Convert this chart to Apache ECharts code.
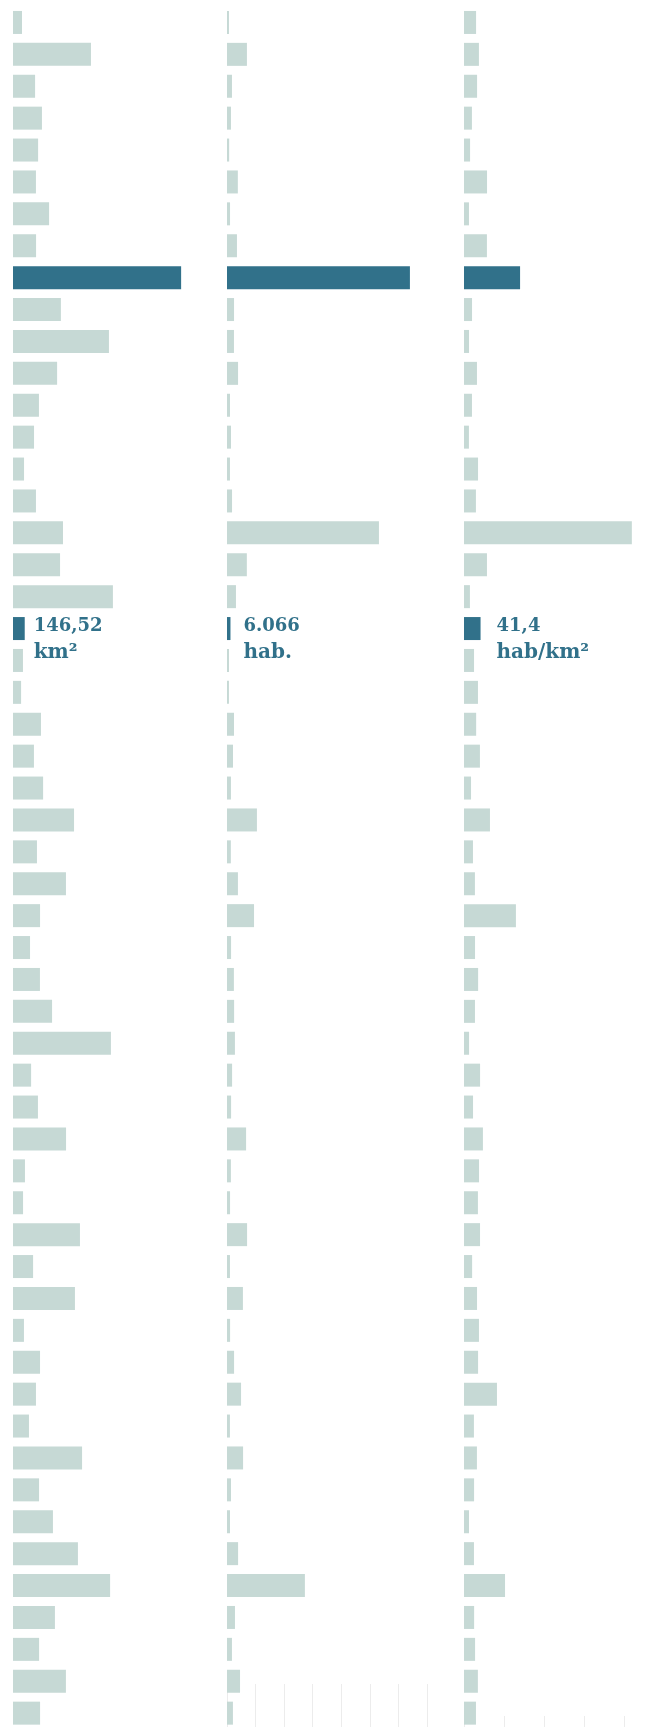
<!DOCTYPE html>
<html>
<head>
<meta charset="utf-8">
<script src="https://cdn.jsdelivr.net/npm/echarts@6/dist/echarts.min.js"></script>
<style>
html,body{margin:0;padding:0;background:#ffffff;}
#chart{width:657px;height:1727px;}
</style>
</head>
<body>
<div id="chart"></div>
<script>
// Municipalities (rows, top to bottom)
const categories = ['01','02','03','04','05','06','07','08','09','10','11','12','13','14','15','16','17','18','19','20','21','22','23','24','25','26','27','28','29','30','31','32','33','34','35','36','37','38','39','40','41','42','43','44','45','46','47','48','49','50','51','52','53','54'];

// Área (km²)
const area = [112.3, 974.6, 276.1, 361.8, 313.9, 286.7, 451.2, 288.4, 2101.6, 598.7, 1199.3, 551.4, 324.2, 263.0, 138.1, 286.9, 624.8, 588.3, 1248.9, 146.52, 124.6, 101.2, 349.5, 261.8, 376.3, 763.1, 299.4, 661.9, 338.2, 213.0, 336.7, 488.4, 1224.1, 226.3, 311.8, 663.2, 149.6, 125.8, 836.9, 251.2, 774.3, 136.9, 338.0, 287.1, 199.5, 863.4, 325.7, 499.2, 811.6, 1213.8, 524.1, 326.2, 661.4, 338.5];

// População (hab.)
const populacao = [3420, 34870, 8690, 6940, 3780, 18960, 5310, 17420, 320100, 12310, 12180, 19340, 5280, 7050, 5190, 8830, 265900, 34720, 15680, 6066, 3470, 3390, 12240, 10460, 6890, 52380, 6710, 19120, 47310, 7120, 12060, 12430, 13870, 8910, 7160, 33410, 6820, 5340, 35150, 5190, 27860, 5410, 12380, 24610, 5120, 28140, 6980, 5260, 19410, 136320, 13950, 8640, 22810, 10380];

// Densidade (hab/km²)
const densidade = [30.2, 37.3, 32.7, 19.8, 15.2, 57.6, 12.4, 57.3, 140.2, 20.1, 12.6, 32.4, 19.9, 12.3, 35.1, 29.8, 419.6, 57.4, 14.8, 41.4, 25.1, 34.9, 30.4, 39.8, 17.6, 64.9, 22.4, 27.3, 129.8, 27.6, 35.3, 27.4, 12.7, 40.2, 22.6, 47.3, 37.6, 34.8, 40.1, 20.3, 32.6, 37.4, 35.2, 82.4, 24.8, 32.3, 25.2, 12.5, 24.9, 102.6, 25.3, 27.7, 34.7, 29.9];

const units = ['km²', 'hab.', 'hab/km²'];
const decimals = [2, 0, 1];
const bigRow = 8;       // largest municipality (dark)
const selectedRow = 19; // selected municipality (dark, labelled)

const LIGHT = '#c6d9d5';
const DARK = '#31718a';

function fmtPt(v, dec) {
  const s = v.toFixed(dec);
  const parts = s.split('.');
  const intPart = parts[0].replace(/\B(?=(\d{3})+(?!\d))/g, '.');
  return parts.length > 1 ? intPart + ',' + parts[1] : intPart;
}

const GRID_TOP = 6.5;
const GRID_H = 1722.6;
const lefts = [13, 227, 464];
const maxes = [2500, 350000, 500];
const labelDist = [9, 13, 16];
const datasets = [area, populacao, densidade];

const grids = [];
const xAxes = [];
const yAxes = [];
const series = [];

const textBase = {color: DARK, fontFamily: 'DejaVu Serif', fontWeight: 'bold', lineHeight: 26};

datasets.forEach((vals, k) => {
  grids.push({left: lefts[k], top: GRID_TOP, width: 200, height: GRID_H, containLabel: false, outerBoundsMode: 'none'});
  xAxes.push({type: 'value', gridIndex: k, min: 0, max: maxes[k], show: false, splitLine: {show: false}});
  yAxes.push({type: 'category', gridIndex: k, data: categories, inverse: true, show: false});
  series.push({
    type: 'bar',
    xAxisIndex: k,
    yAxisIndex: k,
    barWidth: 23,
    silent: true,
    data: vals.map((v, i) => {
      const item = {value: v, itemStyle: {color: (i === bigRow || i === selectedRow) ? DARK : LIGHT}};
      if (i === selectedRow) {
        item.label = {
          show: true,
          position: 'right',
          distance: labelDist[k],
          verticalAlign: 'top',
          offset: [0, -15],
          formatter: '{n|' + fmtPt(v, decimals[k]) + '}\n{u|' + units[k] + '}',
          rich: {
            n: Object.assign({fontSize: 18}, textBase),
            u: Object.assign({fontSize: 20}, textBase)
          }
        };
      }
      return item;
    })
  });
});

// faint vertical gridlines visible at the bottom of columns 2 and 3
const faint = [{k: 1, top: 1684, height: 50}, {k: 2, top: 1716, height: 20}];
faint.forEach((f, j) => {
  const gi = 3 + j;
  grids.push({left: lefts[f.k], top: f.top, width: 200, height: f.height, z: 0, outerBoundsMode: 'none'});
  xAxes.push({
    type: 'value', gridIndex: gi, min: 0, max: maxes[f.k], interval: maxes[f.k] / (f.k === 1 ? 7 : 5),
    axisLine: {show: false}, axisTick: {show: false}, axisLabel: {show: false},
    splitLine: {show: true, lineStyle: {color: '#ececec', width: 1}}, z: 0
  });
  yAxes.push({type: 'category', gridIndex: gi, data: ['a'], show: false});
  series.push({type: 'bar', xAxisIndex: gi, yAxisIndex: gi, data: [], silent: true});
});

const chart = echarts.init(document.getElementById('chart'), null, {renderer: 'canvas'});
chart.setOption({
  animation: false,
  backgroundColor: '#ffffff',
  grid: grids,
  xAxis: xAxes,
  yAxis: yAxes,
  series: series
});
</script>
</body>
</html>
